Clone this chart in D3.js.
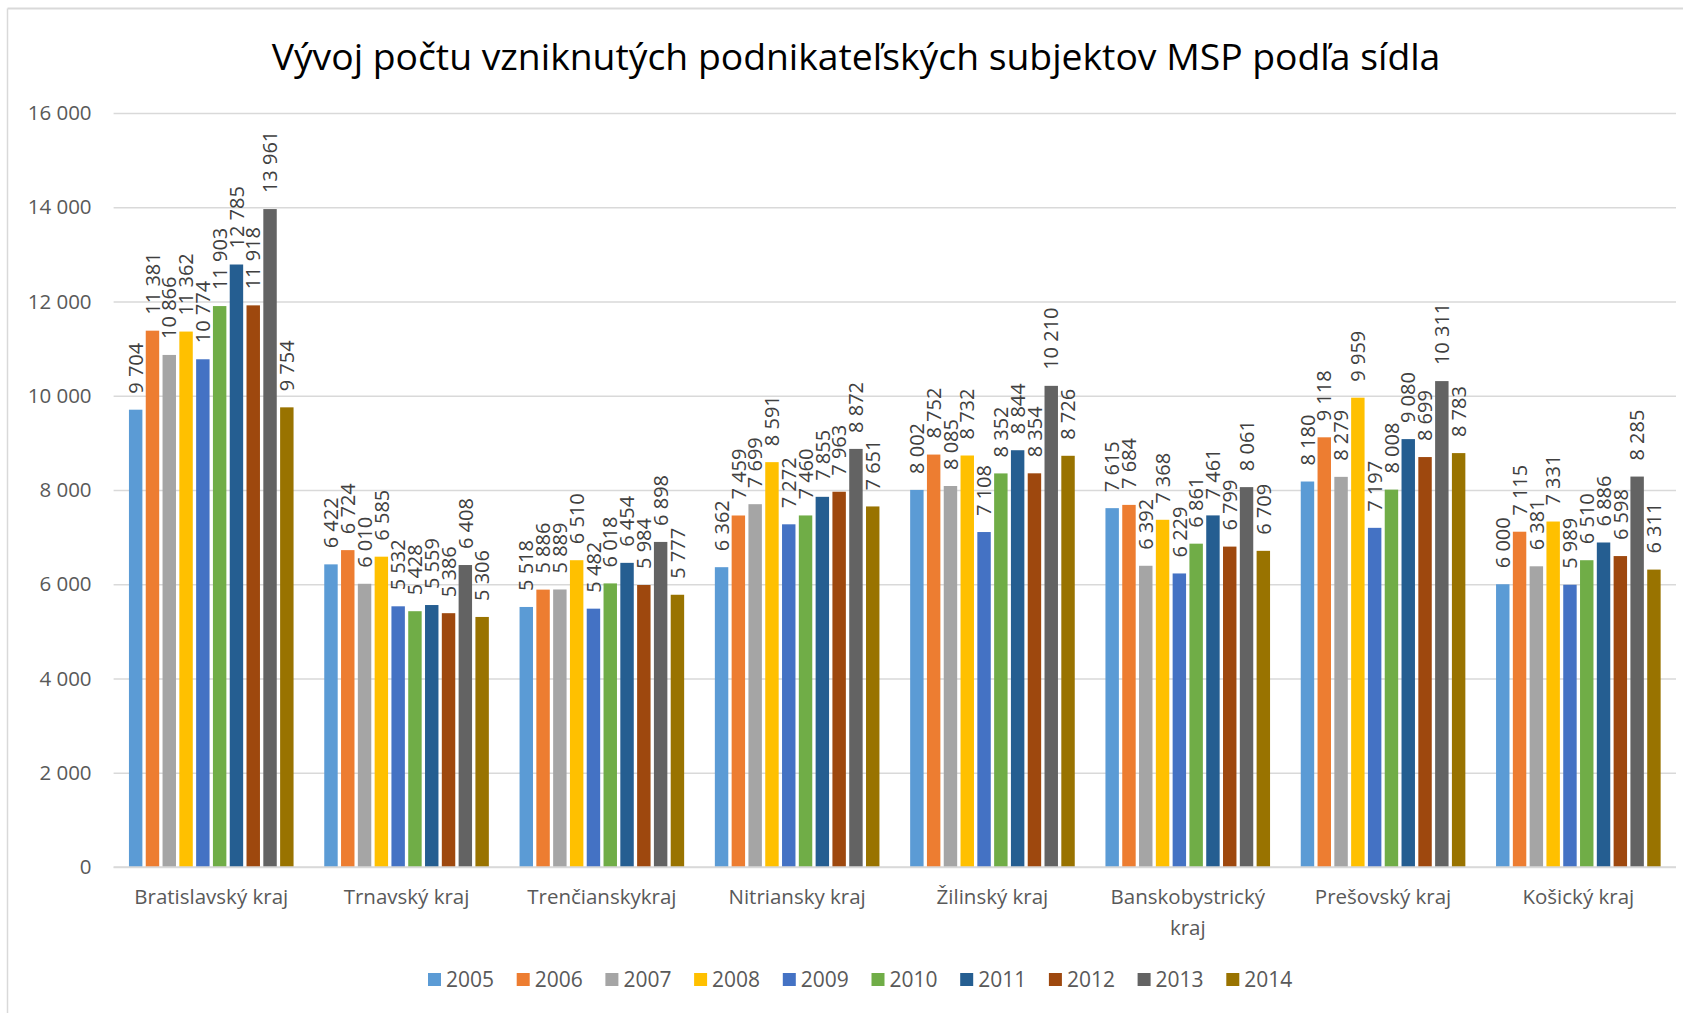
<!DOCTYPE html>
<html>
<head>
<meta charset="utf-8">
<script src="https://cdn.jsdelivr.net/npm/d3@7"></script>
<style>
  html, body { margin:0; padding:0; background:#fff; }
  svg { display:block; }
</style>
</head>
<body>
<svg id="chart" width="1683" height="1013"></svg>
<script>
/* ---------- data ---------- */
const regions = ['Bratislavský kraj','Trnavský kraj','Trenčianskykraj','Nitriansky kraj',
                 'Žilinský kraj','Banskobystrický kraj','Prešovský kraj','Košický kraj'];
const years = ['2005','2006','2007','2008','2009','2010','2011','2012','2013','2014'];
const yearColors = ['#5B9BD5','#ED7D31','#A5A5A5','#FFC000','#4472C4','#70AD47','#255E91','#9E480E','#636363','#997300'];

// one array per region, values for 2005..2014
const bratislavsky     = [9704, 11381, 10866, 11362, 10774, 11903, 12785, 11918, 13961, 9754];
const trnavsky         = [6422, 6724, 6010, 6585, 5532, 5428, 5559, 5386, 6408, 5306];
const trenciansky      = [5518, 5886, 5889, 6510, 5482, 6018, 6454, 5984, 6898, 5777];
const nitriansky       = [6362, 7459, 7699, 8591, 7272, 7460, 7855, 7963, 8872, 7651];
const zilinsky         = [8002, 8752, 8085, 8732, 7108, 8352, 8844, 8354, 10210, 8726];
const banskobystricky  = [7615, 7684, 6392, 7368, 6229, 6861, 7461, 6799, 8061, 6709];
const presovsky        = [8180, 9118, 8279, 9959, 7197, 8008, 9080, 8699, 10311, 8783];
const kosicky          = [6000, 7115, 6381, 7331, 5989, 6510, 6886, 6598, 8285, 6311];
const regionValues = [bratislavsky, trnavsky, trenciansky, nitriansky, zilinsky, banskobystricky, presovsky, kosicky];

const yTicks = [0, 2000, 4000, 6000, 8000, 10000, 12000, 14000, 16000];
const titleText = 'Vývoj počtu vzniknutých podnikateľských subjektov MSP podľa sídla';

/* ---------- setup ---------- */
const FONT = "'Open Sans','Liberation Sans',sans-serif";
const svg = d3.select('#chart');
const plot = { left:113.6, right:1676, top:113, bottom:867 };

const fmt = d3.formatLocale({ decimal:',', thousands:' ', grouping:[3], currency:['',''] }).format(',d');

const x0 = d3.scaleBand().domain(regions).range([plot.left, plot.right]).paddingInner(0.14).paddingOuter(0.07);
const x1 = d3.scaleBand().domain(years).range([0, x0.bandwidth()]).paddingInner(0.2).paddingOuter(0.1);
const y  = d3.scaleLinear().domain([0,16000]).range([plot.bottom, plot.top]);

// chart frame (top + left edge visible)
svg.append('line').attr('x1',7.5).attr('x2',1683).attr('y1',8.5).attr('y2',8.5)
  .style('stroke','#D9D9D9').style('stroke-width',2);
svg.append('line').attr('x1',7.5).attr('x2',7.5).attr('y1',8.5).attr('y2',1013)
  .style('stroke','#D9D9D9').style('stroke-width',1.5);

// title
svg.append('text').attr('x',856).attr('y',70).attr('text-anchor','middle')
  .style('font-family',FONT).style('font-size','37.3px').style('fill','#000')
  .text(titleText);

// gridlines + y axis
const yAxis = d3.axisLeft(y).tickValues(yTicks).tickFormat(fmt).tickSize(-(plot.right - plot.left)).tickPadding(22);
const yAxisG = svg.append('g').attr('transform',`translate(${plot.left},0)`).call(yAxis);
yAxisG.select('.domain').remove();
yAxisG.selectAll('line').style('stroke','#D9D9D9').style('stroke-width',1.3);
yAxisG.selectAll('text').style('font-family',FONT).style('font-size','20.5px').style('fill','#595959');

// bars
const groups = svg.append('g').selectAll('g').data(regions).join('g')
  .attr('transform', d => `translate(${x0(d)},0)`);

groups.selectAll('rect')
  .data((r,i) => regionValues[i].map((v,j) => ({ year:years[j], value:v, color:yearColors[j] })))
  .join('rect')
  .attr('x', d => x1(d.year))
  .attr('width', x1.bandwidth())
  .attr('y', d => y(d.value))
  .attr('height', d => y(0) - y(d.value))
  .style('fill', d => d.color);

// value labels
groups.selectAll('text.val')
  .data((r,i) => regionValues[i].map((v,j) => ({ year:years[j], value:v })))
  .join('text').attr('class','val')
  .attr('transform', d => `translate(${x1(d.year) + x1.bandwidth()/2},${y(d.value) - 16}) rotate(-90)`)
  .attr('dy','0.36em')
  .style('font-family',FONT).style('font-size','20px').style('fill','#404040')
  .text(d => fmt(d.value));

// baseline
svg.append('line').attr('x1',plot.left).attr('x2',plot.right).attr('y1',y(0)).attr('y2',y(0))
  .style('stroke','#D9D9D9').style('stroke-width',1.5);

// category labels (wrap the long one)
const catG = svg.append('g');
regions.forEach(r => {
  const t = catG.append('text').attr('x', x0(r) + x0.bandwidth()/2).attr('y', 904)
    .attr('text-anchor','middle')
    .style('font-family',FONT).style('font-size','20.5px').style('fill','#595959');
  const lines = r === 'Banskobystrický kraj' ? ['Banskobystrický','kraj'] : [r];
  lines.forEach((ln,k) => t.append('tspan').attr('x', x0(r) + x0.bandwidth()/2).attr('dy', k ? 31 : 0).text(ln));
});

// legend
const legend = svg.append('g').selectAll('g').data(years).join('g')
  .attr('transform', (d,i) => `translate(${428 + i*88.7},980)`);
legend.append('rect').attr('x',0).attr('y',-7).attr('width',13).attr('height',13)
  .style('fill', (d,i) => yearColors[i]);
legend.append('text').attr('x',18).attr('y',0).attr('dy','0.35em')
  .style('font-family',FONT).style('font-size','21px').style('fill','#595959')
  .text(d => d);
</script>
</body>
</html>
